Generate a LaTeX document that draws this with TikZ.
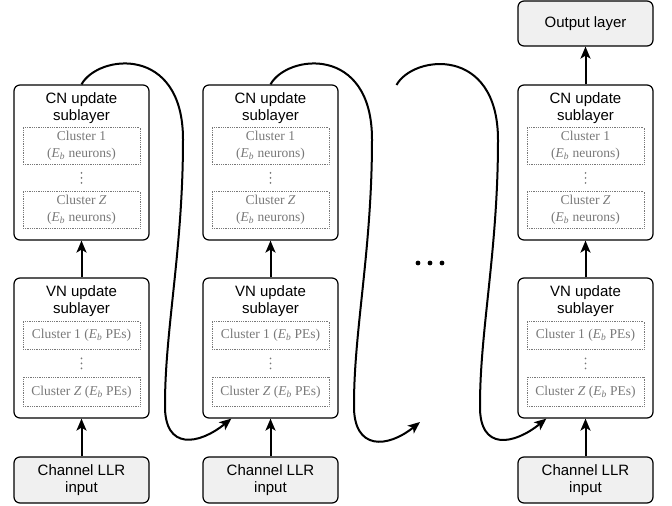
\documentclass[tikz,border=0pt]{standalone}
\usepackage{fontspec}
\setmainfont{Liberation Serif}
\setsansfont{Liberation Sans}
\usetikzlibrary{arrows.meta, calc}
\definecolor{clustcol}{RGB}{120,120,120}
\definecolor{iofill}{RGB}{240,240,240}

\newcommand{\Ebsym}{\textit{E}\textsubscript{\textit{b}}}

\begin{document}
\begin{tikzpicture}[
    x=1pt, y=1pt,
    arr/.style={-{Stealth[length=12pt, width=10pt, inset=3pt]}, line width=2pt},
    sublayer/.style={draw, rounded corners=6pt, line width=1.2pt,
                     minimum width=135pt, inner sep=0pt},
    iobox/.style={sublayer, fill=iofill, align=center,
                  font=\sffamily\fontsize{15}{16.5}\selectfont},
    headtext/.style={font=\sffamily\fontsize{15}{17}\selectfont,
                     align=center, inner sep=0pt},
    cluster/.style={draw=clustcol, densely dotted, line width=0.8pt,
                    minimum width=117pt, inner sep=0pt, align=center,
                    text=clustcol, font=\fontsize{13.5}{17}\selectfont},
]

\useasboundingbox (0,0) rectangle (672,506);

% ════════════════════════════════════════════════════════
% 1. THREE COLUMNS OF SUBLAYERS
% ════════════════════════════════════════════════════════
\foreach \i/\x in {1/81.5, 2/270.5, 3/585.5}{
    \node[sublayer, minimum height=155pt] (cn\i) at (\x, 343.5) {};
    \node[sublayer, minimum height=140pt] (vn\i) at (\x, 158) {};
    \node[iobox, minimum height=46pt] (llr\i) at (\x, 26) {Channel LLR\\input};

    % CN update sublayer contents
    \node[headtext] (cnhead\i) at ($(cn\i.north)+(0,-23.6)$) {CN update\\sublayer};
    \node[cluster, minimum height=37pt] (cnfirst\i) at ($(cn\i.north)+(0,-61.5)$)
        {Cluster 1\\(\Ebsym{} neurons)};
    \coordinate (cndots\i) at ($(cn\i.north)+(0,-93.5)$);
    \node[cluster, minimum height=37pt] (cnlast\i) at ($(cn\i.north)+(0,-125.5)$)
        {Cluster \textit{Z}\\(\Ebsym{} neurons)};

    % VN update sublayer contents
    \node[headtext] (vnhead\i) at ($(vn\i.north)+(0,-23.6)$) {VN update\\sublayer};
    \node[cluster, minimum height=28pt] (vnfirst\i) at ($(vn\i.north)+(0,-58)$)
        {Cluster 1 (\Ebsym{} PEs)};
    \coordinate (vndots\i) at ($(vn\i.north)+(0,-86)$);
    \node[cluster, minimum height=29pt] (vnlast\i) at ($(vn\i.north)+(0,-114.5)$)
        {Cluster \textit{Z} (\Ebsym{} PEs)};

    % vertical dots between the clusters
    \foreach \d in {-5, 0, 5}{
        \fill[clustcol] ($(cndots\i)+(0,\d)$) circle (0.9);
        \fill[clustcol] ($(vndots\i)+(0,\d)$) circle (0.9);
    }

    \draw[arr] (llr\i) -- (vn\i);
    \draw[arr] (vn\i) -- (cn\i);
}

% ════════════════════════════════════════════════════════
% 2. OUTPUT LAYER
% ════════════════════════════════════════════════════════
\node[iobox, minimum height=45pt] (out) at (585.5, 482.5) {Output layer};
\draw[arr] (cn3) -- (out);

% ════════════════════════════════════════════════════════
% 3. LOOPS FROM ONE ITERATION TO THE NEXT
% ════════════════════════════════════════════════════════
\coordinate (gapin) at (420, 84);
\coordinate (gapout) at (396.5, 421);

\foreach \a/\b in {cn1.north/vn2.-119, cn2.north/gapin, gapout/vn3.-119}{
    \draw[arr] (\a) .. controls +(16.5,30) and +(0,95) .. ++(101.5,-55)
        .. controls +(0,-110) and +(0,75) .. ++(-18,-265)
        .. controls +(-1,-47) and +(-32,-26) .. (\b);
}

% dots between iterations
\foreach \dx in {418, 430, 442}{
    \fill (\dx, 243) circle (2.4);
}

\end{tikzpicture}
\end{document}
